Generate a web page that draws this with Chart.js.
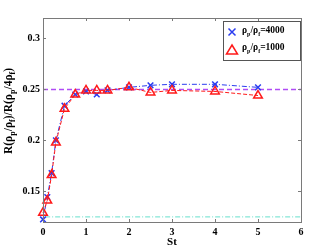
<!DOCTYPE html>
<html><head><meta charset="utf-8">
<script src="https://cdn.jsdelivr.net/npm/chart.js@4"></script>
<style>html,body{margin:0;padding:0;background:#fff}#wrap{width:332px;height:250px}</style>
</head><body><div id="wrap"><canvas id="c" width="332" height="250"></canvas></div>
<script>
const stValues = [0, 0.1, 0.2, 0.3, 0.5, 0.75, 1, 1.25, 1.5, 2, 2.5, 3, 4, 5];
const ratio4000 = [0.1225, 0.1445, 0.168, 0.200, 0.234, 0.245, 0.248, 0.245, 0.249, 0.252, 0.254, 0.255, 0.255, 0.252];
const ratio1000 = [0.129, 0.141, 0.166, 0.198, 0.231, 0.245, 0.249, 0.249, 0.249, 0.252, 0.247, 0.249, 0.248, 0.244];
const refHigh = 0.25;
const refLow = 0.125;
const xTicks = [0, 1, 2, 3, 4, 5, 6];
const yTicks = [0.15, 0.2, 0.25, 0.3];
const yTickLabels = ['0.15', '0.2', '0.25', '0.3'];
const seriesLabels = ['4000', '1000'];

const SERIF = '"Liberation Serif", "DejaVu Serif", serif';
const FONT = 'bold 10px ' + SERIF;

function pts(xs, ys){ return xs.map((x,i)=>({x:x, y:ys[i]})); }

function drawRich(ctx, parts, x, y, size, subSize, subShift){
  let cx = x;
  parts.forEach(p=>{
    ctx.font = 'bold ' + (p[1] ? subSize : size) + 'px ' + SERIF;
    ctx.fillText(p[0], cx, p[1] ? y + subShift : y);
    cx += ctx.measureText(p[0]).width;
  });
  return cx - x;
}
function richWidth(ctx, parts, size, subSize){
  let w = 0;
  parts.forEach(p=>{ ctx.font = 'bold ' + (p[1] ? subSize : size) + 'px ' + SERIF; w += ctx.measureText(p[0]).width; });
  return w;
}

const framePlugin = {
  id: 'frame',
  afterDatasetsDraw(chart){
    const ctx = chart.ctx, a = chart.chartArea;
    const xs = chart.scales.x, ys = chart.scales.y;
    ctx.save();
    ctx.strokeStyle = '#7a7a7a';
    ctx.lineWidth = 1;
    ctx.strokeRect(a.left + 0.5, a.top + 0.5, a.right - a.left, a.bottom - a.top);
    ctx.beginPath();
    xTicks.forEach(v=>{
      const px = Math.round(xs.getPixelForValue(v)) + 0.5;
      ctx.moveTo(px, a.bottom); ctx.lineTo(px, a.bottom - 3);
      ctx.moveTo(px, a.top); ctx.lineTo(px, a.top + 3);
    });
    yTicks.forEach(v=>{
      const py = Math.round(ys.getPixelForValue(v)) + 0.5;
      ctx.moveTo(a.left, py); ctx.lineTo(a.left + 3, py);
      ctx.moveTo(a.right, py); ctx.lineTo(a.right - 3, py);
    });
    ctx.stroke();

    ctx.fillStyle = '#000';
    ctx.font = FONT;
    ctx.textBaseline = 'middle';
    ctx.textAlign = 'center';
    xTicks.forEach(v=>{ ctx.fillText(String(v), xs.getPixelForValue(v), a.bottom + 10); });
    ctx.textAlign = 'right';
    yTicks.forEach((v,i)=>{ ctx.fillText(yTickLabels[i], a.left - 3, ys.getPixelForValue(v)); });

    ctx.textAlign = 'center';
    ctx.font = 'bold 11px ' + SERIF;
    ctx.fillText('St', (a.left + a.right)/2, a.bottom + 20);

    const yParts = [['R(ρ',0],['p',1],['/ρ',0],['f',1],[')/R(ρ',0],['p',1],['/4ρ',0],['f',1],[')',0]];
    ctx.save();
    ctx.translate(9, 111);
    ctx.rotate(-Math.PI/2);
    ctx.textAlign = 'left';
    const w = richWidth(ctx, yParts, 11.5, 8);
    drawRich(ctx, yParts, -w/2, 0, 11.5, 8, 3.5);
    ctx.restore();

    const lx = 223, ly = 21, lw = 77, lh = 39;
    ctx.fillStyle = '#fff';
    ctx.fillRect(lx, ly, lw, lh);
    ctx.strokeStyle = '#555';
    ctx.strokeRect(lx + 0.5, ly + 0.5, lw, lh);
    const ds = chart.data.datasets;
    ctx.strokeStyle = ds[0].borderColor; ctx.lineWidth = 1.5;
    ctx.beginPath();
    const mx = 232, my1 = 32, my2 = 50;
    ctx.moveTo(mx-3.5, my1-3.5); ctx.lineTo(mx+3.5, my1+3.5);
    ctx.moveTo(mx+3.5, my1-3.5); ctx.lineTo(mx-3.5, my1+3.5);
    ctx.stroke();
    ctx.strokeStyle = ds[1].borderColor; ctx.lineWidth = 1.5;
    ctx.beginPath();
    ctx.moveTo(mx, my2-5); ctx.lineTo(mx+5.5, my2+4); ctx.lineTo(mx-5.5, my2+4); ctx.closePath();
    ctx.stroke();
    ctx.fillStyle = '#000';
    ctx.textAlign = 'left';
    drawRich(ctx, [['ρ',0],['p',1],['/ρ',0],['f',1],['='+seriesLabels[0],0]], 242, my1 - 1, 9.5, 6, 3);
    drawRich(ctx, [['ρ',0],['p',1],['/ρ',0],['f',1],['='+seriesLabels[1],0]], 242, my2 - 2, 9.5, 6, 3);
    ctx.restore();
  }
};

new Chart(document.getElementById('c'), {
  type: 'scatter',
  data: {
    datasets: [
      { label: seriesLabels[0], data: pts(stValues, ratio4000), showLine: true,
        borderColor: '#2a3cf0', borderWidth: 1, borderDash: [5,2,1,2],
        pointStyle: 'crossRot', pointRadius: 4, pointBorderWidth: 1.5,
        pointBorderColor: '#2a3cf0', pointBackgroundColor: 'rgba(0,0,0,0)', clip: false, order: 2 },
      { label: seriesLabels[1], data: pts(stValues, ratio1000), showLine: true,
        borderColor: '#ff1a1a', borderWidth: 1, borderDash: [4,2],
        pointStyle: 'triangle', pointRadius: 5, pointBorderWidth: 1.5,
        pointBorderColor: '#ff1a1a', pointBackgroundColor: 'rgba(0,0,0,0)', clip: false, order: 1 },
      { label: 'ref high', data: [{x:0,y:refHigh},{x:6,y:refHigh}], showLine: true,
        borderColor: '#b04cf5', borderWidth: 1.5, borderDash: [5,3], pointRadius: 0, order: 3 },
      { label: 'ref low', data: [{x:0.05,y:refLow},{x:6,y:refLow}], showLine: true,
        borderColor: '#66e0cc', borderWidth: 1, borderDash: [5,2,1,2], pointRadius: 0, order: 3 }
    ]
  },
  options: {
    responsive: false, animation: false, devicePixelRatio: 1,
    layout: { padding: { left: 0, right: 31, top: 18, bottom: 0 } },
    plugins: { legend: { display: false }, tooltip: { enabled: false } },
    scales: {
      x: { type: 'linear', min: 0, max: 6,
        afterFit: s => { s.height = 28; },
        ticks: { display: false }, grid: { display: false }, border: { display: false } },
      y: { type: 'linear', min: 0.12, max: 0.32,
        afterFit: s => { s.width = 43; },
        ticks: { display: false }, grid: { display: false }, border: { display: false } }
    }
  },
  plugins: [framePlugin]
});
</script>
</body></html>
